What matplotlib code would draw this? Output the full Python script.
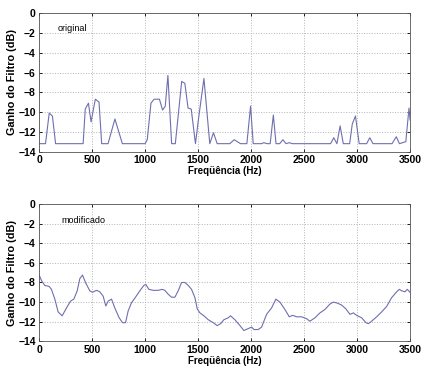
"""Ganho do filtro: original vs modificado."""

import matplotlib

matplotlib.use("Agg")
import matplotlib.pyplot as plt

# original filter gain (Hz, dB)
orig_freq = [0, 60, 95, 125, 155, 415, 435, 465, 490, 530, 565, 590, 650, 715, 785,
             1000, 1020, 1055, 1085, 1135, 1165, 1190, 1215, 1250, 1285, 1345, 1375,
             1405, 1435, 1475, 1500, 1555, 1610, 1645, 1680, 1800, 1840, 1900, 1960,
             1995, 2020, 2100, 2120, 2150, 2180, 2210, 2235, 2270, 2300, 2330, 2360,
             2390, 2750, 2780, 2810, 2840, 2870, 2930, 2955, 2985, 3020, 3090, 3120,
             3150, 3330, 3370, 3400, 3460, 3490, 3500]
orig_gain = [-13.2, -13.2, -10.1, -10.4, -13.2, -13.2, -9.7, -9.1, -11.0, -8.7, -9.0,
             -13.2, -13.2, -10.7, -13.2, -13.2, -12.8, -9.1, -8.7, -8.7, -9.8, -9.4,
             -6.3, -13.2, -13.2, -6.9, -7.1, -9.6, -9.7, -13.2, -11.0, -6.6, -13.2,
             -12.1, -13.2, -13.2, -12.8, -13.2, -13.2, -9.4, -13.2, -13.2, -13.1,
             -13.2, -13.2, -10.3, -13.2, -13.2, -12.8, -13.2, -13.1, -13.2, -13.2,
             -12.6, -13.2, -11.4, -13.2, -13.2, -11.2, -10.4, -13.2, -13.2, -12.6,
             -13.2, -13.2, -12.5, -13.2, -13.0, -9.6, -10.8]

# modified filter gain (Hz, dB)
mod_freq = [0, 22, 53, 94, 116, 148, 179, 217, 258, 296, 327, 359, 384, 409, 437, 478,
            503, 541, 573, 604, 629, 651, 683, 714, 755, 787, 815, 840, 872, 903, 950,
            988, 1007, 1035, 1076, 1123, 1161, 1186, 1218, 1249, 1281, 1312, 1344, 1375,
            1407, 1438, 1470, 1492, 1517, 1555, 1596, 1643, 1680, 1712, 1743, 1784, 1806,
            1847, 1888, 1932, 1973, 2005, 2027, 2067, 2099, 2146, 2193, 2234, 2272, 2319,
            2360, 2392, 2429, 2477, 2524, 2555, 2603, 2650, 2697, 2744, 2776, 2813, 2854,
            2895, 2933, 2965, 2996, 3043, 3084, 3106, 3137, 3185, 3232, 3279, 3326, 3374,
            3399, 3421, 3452, 3474, 3500]
mod_gain = [-7.24, -7.8, -8.3, -8.4, -8.7, -9.7, -11.0, -11.4, -10.6, -9.9, -9.7, -8.85,
            -7.6, -7.24, -8.0, -8.85, -9.0, -8.8, -8.95, -9.4, -10.4, -9.9, -9.7, -10.6,
            -11.6, -12.1, -12.1, -10.9, -10.05, -9.6, -8.85, -8.3, -8.2, -8.7, -8.8, -8.8,
            -8.7, -8.8, -9.2, -9.5, -9.5, -8.85, -8.0, -8.0, -8.3, -8.7, -9.55, -10.7,
            -11.1, -11.4, -11.8, -12.1, -12.4, -12.2, -11.8, -11.6, -11.4, -11.8, -12.3,
            -12.9, -12.7, -12.55, -12.8, -12.8, -12.55, -11.25, -10.6, -9.7, -10.0, -10.75,
            -11.5, -11.35, -11.5, -11.5, -11.7, -11.95, -11.6, -11.1, -10.75, -10.2, -10.0,
            -10.1, -10.3, -10.7, -11.25, -11.1, -11.35, -11.6, -12.1, -12.2, -11.95, -11.5,
            -11.0, -10.45, -9.55, -8.95, -8.7, -8.85, -8.95, -8.7, -9.0]

x_ticks = [0, 500, 1000, 1500, 2000, 2500, 3000, 3500]
y_ticks = [0, -2, -4, -6, -8, -10, -12, -14]

plt.rcParams["font.family"] = ["Liberation Sans", "DejaVu Sans"]

fig = plt.figure(figsize=(4.21, 3.67), dpi=100)
axes = [fig.add_axes([0.093, 0.587, 0.881, 0.377]),
        fig.add_axes([0.093, 0.070, 0.881, 0.374])]

panels = [(orig_freq, orig_gain, "original", 170, -1.5),
          (mod_freq, mod_gain, "modificado", 212, -1.7)]

for ax, (f, g, label, tx, ty) in zip(axes, panels):
    ax.plot(f, g, color="#6f6fb0", linewidth=0.8)
    ax.set_xlim(0, 3500)
    ax.set_ylim(-14, 0)
    ax.set_xticks(x_ticks)
    ax.set_yticks(y_ticks)
    ax.grid(True, linestyle=":", color="#b4b4b4", linewidth=0.7)
    ax.tick_params(direction="in", length=2.5, width=0.6, top=True, right=True,
                   labelsize=7.5, pad=2.5)
    for t in ax.get_xticklabels() + ax.get_yticklabels():
        t.set_fontweight("bold")
    for s in ax.spines.values():
        s.set_linewidth(0.6)
        s.set_color("#555555")
    ax.set_xlabel("Freqüência (Hz)", fontsize=7, fontweight="bold", labelpad=1)
    ax.set_ylabel("Ganho do Filtro (dB)", fontsize=7.8, fontweight="bold", labelpad=1)
    ax.text(tx, ty, label, fontsize=6.5, va="center", ha="left")

fig.savefig("out.png", dpi=100)
